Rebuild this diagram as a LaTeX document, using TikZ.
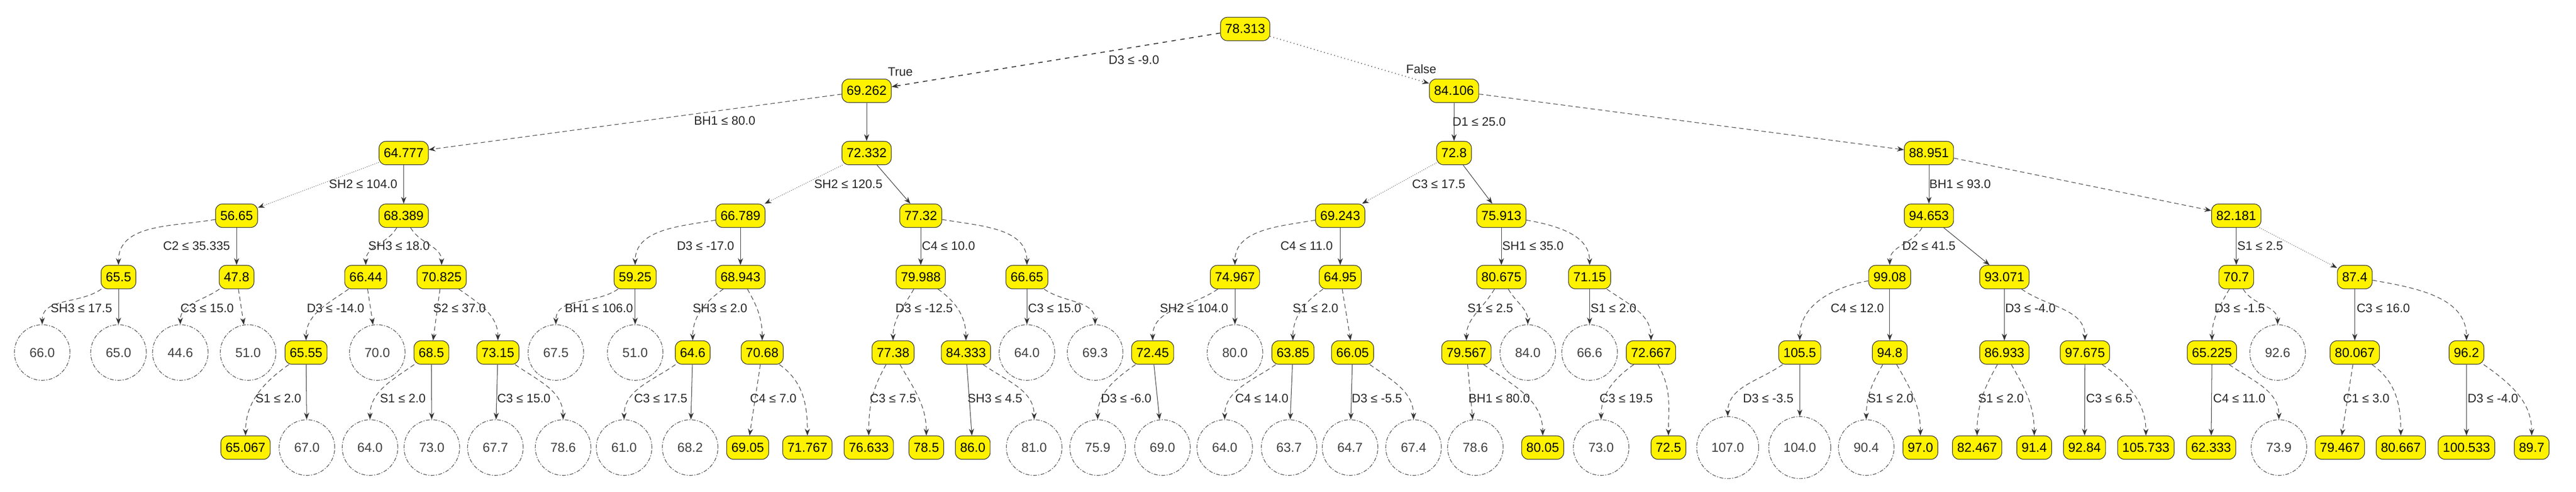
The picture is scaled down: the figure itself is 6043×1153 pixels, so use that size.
\documentclass[tikz,border=0pt]{standalone}
\usepackage{fontspec}
\setmainfont{Liberation Sans}
\usetikzlibrary{arrows.meta}
\newcommand\cv[3]{\draw[ed,densely dashed] (#1) to[out=#3,in=90] (#2);}
\newcommand\st[2]{\draw[ed] (#1) -- (#2);}
\begin{document}
\begin{tikzpicture}[x=0.01cm,y=-0.01cm,
  r/.style={draw=black!80,fill=yellow,rounded corners=1.6mm,minimum height=5.5mm,inner xsep=1.1mm,inner ysep=0.5mm,font=\fontsize{8.7}{9}\selectfont},
  l/.style={draw=black!70,dash pattern=on 2.5pt off 1pt on 0.6pt off 1pt,circle,inner sep=2.5mm,minimum size=12mm,font=\fontsize{8.7}{9}\selectfont,text=black!75},
  lab/.style={font=\fontsize{8.2}{9}\selectfont,text=black!85,inner sep=1pt},
  ed/.style={draw=black!80,line width=0.35pt,-{Stealth[length=1.6mm,width=1.2mm]}}]
\useasboundingbox (0,0) rectangle (6043,1153);
% L0-L2
\node[r] (r) at (2921,68) {78.313};
\node[r] (a) at (2033,213) {69.262};
\node[r] (b) at (3411,213) {84.106};
\node[r] (aa) at (947,359) {64.777};
\node[r] (ab) at (2033,359) {72.332};
\node[r] (ba) at (3411,359) {72.8};
\node[r] (bb) at (4525,359) {88.951};
% L3
\node[r] (aaa) at (555,506) {56.65};
\node[r] (aab) at (947,506) {68.389};
\node[r] (aba) at (1737,506) {66.789};
\node[r] (abb) at (2160,506) {77.32};
\node[r] (baa) at (3144,506) {69.243};
\node[r] (bab) at (3522,506) {75.913};
\node[r] (bba) at (4525,506) {94.653};
\node[r] (bbb) at (5246,506) {82.181};
% L4
\node[r] (aaaa) at (278,650) {65.5};
\node[r] (aaab) at (555,650) {47.8};
\node[r] (aaba) at (858,650) {66.44};
\node[r] (aabb) at (1036,650) {70.825};
\node[r] (abaa) at (1490,650) {59.25};
\node[r] (abab) at (1737,650) {68.943};
\node[r] (abba) at (2160,650) {79.988};
\node[r] (abbb) at (2409,650) {66.65};
\node[r] (baaa) at (2897,650) {74.967};
\node[r] (baab) at (3144,650) {64.95};
\node[r] (baba) at (3522,650) {80.675};
\node[r] (babb) at (3729,650) {71.15};
\node[r] (bbaa) at (4433,650) {99.08};
\node[r] (bbab) at (4702,650) {93.071};
\node[r] (bbba) at (5246,650) {70.7};
\node[r] (bbbb) at (5524,650) {87.4};
% L5
\node[l] (c1) at (99,827) {66.0};
\node[l] (c2) at (278,827) {65.0};
\node[l] (c3) at (423,827) {44.6};
\node[l] (c4) at (582,827) {51.0};
\node[r] (c5) at (718,827) {65.55};
\node[l] (c6) at (885,827) {70.0};
\node[r] (c7) at (1012,827) {68.5};
\node[r] (c8) at (1168,827) {73.15};
\node[l] (c9) at (1304,827) {67.5};
\node[l] (c10) at (1490,827) {51.0};
\node[r] (c11) at (1625,827) {64.6};
\node[r] (c12) at (1788,827) {70.68};
\node[r] (c13) at (2095,827) {77.38};
\node[r] (c14) at (2266,827) {84.333};
\node[l] (c15) at (2409,827) {64.0};
\node[l] (c16) at (2569,827) {69.3};
\node[r] (c17) at (2704,827) {72.45};
\node[l] (c18) at (2897,827) {80.0};
\node[r] (c19) at (3033,827) {63.85};
\node[r] (c20) at (3173,827) {66.05};
\node[r] (c21) at (3440,827) {79.567};
\node[l] (c22) at (3584,827) {84.0};
\node[l] (c23) at (3729,827) {66.6};
\node[r] (c24) at (3873,827) {72.667};
\node[r] (c25) at (4222,827) {105.5};
\node[r] (c26) at (4433,827) {94.8};
\node[r] (c27) at (4702,827) {86.933};
\node[r] (c28) at (4891,827) {97.675};
\node[r] (c29) at (5189,827) {65.225};
\node[l] (c30) at (5343,827) {92.6};
\node[r] (c31) at (5524,827) {80.067};
\node[r] (c32) at (5786,827) {96.2};
% L6
\node[r] (d1) at (576,1050) {65.067};
\node[l] (d2) at (720,1050) {67.0};
\node[l] (d3) at (868,1050) {64.0};
\node[l] (d4) at (1013,1050) {73.0};
\node[l] (d5) at (1162,1050) {67.7};
\node[l] (d6) at (1321,1050) {78.6};
\node[l] (d7) at (1464,1050) {61.0};
\node[l] (d8) at (1619,1050) {68.2};
\node[r] (d9) at (1754,1050) {69.05};
\node[r] (d10) at (1894,1050) {71.767};
\node[r] (d11) at (2038,1050) {76.633};
\node[r] (d12) at (2173,1050) {78.5};
\node[r] (d13) at (2282,1050) {86.0};
\node[l] (d14) at (2426,1050) {81.0};
\node[l] (d15) at (2575,1050) {75.9};
\node[l] (d16) at (2727,1050) {69.0};
\node[l] (d17) at (2873,1050) {64.0};
\node[l] (d18) at (3024,1050) {63.7};
\node[l] (d19) at (3167,1050) {64.7};
\node[l] (d20) at (3316,1050) {67.4};
\node[l] (d21) at (3461,1050) {78.6};
\node[r] (d22) at (3619,1050) {80.05};
\node[l] (d23) at (3756,1050) {73.0};
\node[r] (d24) at (3914,1050) {72.5};
\node[l] (d25) at (4053,1050) {107.0};
\node[l] (d26) at (4222,1050) {104.0};
\node[l] (d27) at (4378,1050) {90.4};
\node[r] (d28) at (4505,1050) {97.0};
\node[r] (d29) at (4638,1050) {82.467};
\node[r] (d30) at (4772,1050) {91.4};
\node[r] (d31) at (4890,1050) {92.84};
\node[r] (d32) at (5034,1050) {105.733};
\node[r] (d33) at (5187,1050) {62.333};
\node[l] (d34) at (5346,1050) {73.9};
\node[r] (d35) at (5489,1050) {79.467};
\node[r] (d36) at (5632,1050) {80.667};
\node[r] (d37) at (5786,1050) {100.533};
\node[r] (d38) at (5939,1050) {89.7};
% top edges
\draw[ed,dashed,line width=0.6pt] (r) -- (a);
\draw[ed,dotted,line width=0.7pt] (r) -- (b);
\draw[ed,densely dashed] (a) -- (aa);
\st{a}{ab}
\st{b}{ba}
\draw[ed,densely dashed] (b) -- (bb);
\draw[ed,densely dotted] (aa) -- (aaa);
\st{aa}{aab}
\draw[ed,densely dotted] (ab) -- (aba);
\st{ab}{abb}
\draw[ed,densely dotted] (ba) -- (baa);
\st{ba}{bab}
\st{bb}{bba}
\draw[ed,densely dashed] (bb) -- (bbb);
% L3-L4
\cv{aaa}{aaaa}{190} \st{aaa}{aaab}
\cv{aab}{aaba}{240} \cv{aab}{aabb}{-60}
\cv{aba}{abaa}{190} \st{aba}{abab}
\st{abb}{abba} \cv{abb}{abbb}{-10}
\cv{baa}{baaa}{190} \st{baa}{baab}
\st{bab}{baba} \cv{bab}{babb}{-10}
\cv{bba}{bbaa}{240} \draw[ed] (bba) -- (bbab);
\st{bbb}{bbba} \draw[ed,densely dotted] (bbb) -- (bbbb);
% L4-L5
\cv{aaaa}{c1}{215} \st{aaaa}{c2}
\cv{aaab}{c3}{215} \draw[ed,densely dashed] (aaab) -- (c4);
\cv{aaba}{c5}{215} \draw[ed,densely dashed] (aaba) -- (c6);
\draw[ed,densely dashed] (aabb) -- (c7); \cv{aabb}{c8}{-35}
\cv{abaa}{c9}{215} \st{abaa}{c10}
\cv{abab}{c11}{215} \cv{abab}{c12}{-60}
\cv{abba}{c13}{240} \cv{abba}{c14}{-35}
\st{abbb}{c15} \cv{abbb}{c16}{-35}
\cv{baaa}{c17}{215} \st{baaa}{c18}
\cv{baab}{c19}{215} \draw[ed,densely dashed] (baab) -- (c20);
\cv{baba}{c21}{240} \cv{baba}{c22}{-60}
\st{babb}{c23} \cv{babb}{c24}{-35}
\cv{bbaa}{c25}{190} \st{bbaa}{c26}
\st{bbab}{c27} \cv{bbab}{c28}{-35}
\cv{bbba}{c29}{240} \cv{bbba}{c30}{-60}
\st{bbbb}{c31} \cv{bbbb}{c32}{-10}
% L5-L6
\cv{c5}{d1}{215} \st{c5}{d2}
\cv{c7}{d3}{215} \st{c7}{d4}
\st{c8}{d5} \cv{c8}{d6}{-35}
\cv{c11}{d7}{215} \st{c11}{d8}
\draw[ed,densely dashed] (c12) -- (d9); \cv{c12}{d10}{-35}
\cv{c13}{d11}{240} \cv{c13}{d12}{-60}
\st{c14}{d13} \cv{c14}{d14}{-35}
\cv{c17}{d15}{215} \st{c17}{d16}
\cv{c19}{d17}{215} \st{c19}{d18}
\st{c20}{d19} \cv{c20}{d20}{-35}
\draw[ed,densely dashed] (c21) -- (d21); \cv{c21}{d22}{-35}
\cv{c24}{d23}{215} \cv{c24}{d24}{-60}
\cv{c25}{d25}{215} \st{c25}{d26}
\cv{c26}{d27}{240} \cv{c26}{d28}{-60}
\cv{c27}{d29}{240} \cv{c27}{d30}{-60}
\st{c28}{d31} \cv{c28}{d32}{-35}
\st{c29}{d33} \cv{c29}{d34}{-35}
\draw[ed,densely dashed] (c31) -- (d35); \cv{c31}{d36}{-35}
\st{c32}{d37} \cv{c32}{d38}{-35}
% labels
\node[lab] (tT) at (2112,168) {True};
\node[lab] (tF) at (3334,162) {False};
\node[lab] (t0) at (2660,140) {D3 ≤ -9.0};
\node[lab] (t1) at (1700,283) {BH1 ≤ 80.0};
\node[lab] (t2) at (3470,285) {D1 ≤ 25.0};
\node[lab] (t3) at (852,432) {SH2 ≤ 104.0};
\node[lab] (t4) at (1990,432) {SH2 ≤ 120.5};
\node[lab] (t5) at (3375,432) {C3 ≤ 17.5};
\node[lab] (t6) at (4598,432) {BH1 ≤ 93.0};
\node[lab] (t7) at (461,577) {C2 ≤ 35.335};
\node[lab] (t8) at (936,577) {SH3 ≤ 18.0};
\node[lab] (t9) at (1655,577) {D3 ≤ -17.0};
\node[lab] (t10) at (2225,577) {C4 ≤ 10.0};
\node[lab] (t11) at (3065,577) {C4 ≤ 11.0};
\node[lab] (t12) at (3596,577) {SH1 ≤ 35.0};
\node[lab] (t13) at (4525,577) {D2 ≤ 41.5};
\node[lab] (t14) at (5302,577) {S1 ≤ 2.5};
\node[lab] (t15) at (191,723) {SH3 ≤ 17.5};
\node[lab] (t16) at (486,723) {C3 ≤ 15.0};
\node[lab] (t17) at (787,723) {D3 ≤ -14.0};
\node[lab] (t18) at (1078,723) {S2 ≤ 37.0};
\node[lab] (t19) at (1405,723) {BH1 ≤ 106.0};
\node[lab] (t20) at (1689,723) {SH3 ≤ 2.0};
\node[lab] (t21) at (2168,723) {D3 ≤ -12.5};
\node[lab] (t22) at (2474,723) {C3 ≤ 15.0};
\node[lab] (t23) at (2801,723) {SH2 ≤ 104.0};
\node[lab] (t24) at (3086,723) {S1 ≤ 2.0};
\node[lab] (t25) at (3496,723) {S1 ≤ 2.5};
\node[lab] (t26) at (3785,723) {S1 ≤ 2.0};
\node[lab] (t27) at (4357,723) {C4 ≤ 12.0};
\node[lab] (t28) at (4763,723) {D3 ≤ -4.0};
\node[lab] (t29) at (5254,723) {D3 ≤ -1.5};
\node[lab] (t30) at (5591,723) {C3 ≤ 16.0};
\node[lab] (t31) at (653,934) {S1 ≤ 2.0};
\node[lab] (t32) at (945,934) {S1 ≤ 2.0};
\node[lab] (t33) at (1229,934) {C3 ≤ 15.0};
\node[lab] (t34) at (1550,934) {C3 ≤ 17.5};
\node[lab] (t35) at (1814,934) {C4 ≤ 7.0};
\node[lab] (t36) at (2095,934) {C3 ≤ 7.5};
\node[lab] (t37) at (2334,934) {SH3 ≤ 4.5};
\node[lab] (t38) at (2642,934) {D3 ≤ -6.0};
\node[lab] (t39) at (2960,934) {C4 ≤ 14.0};
\node[lab] (t40) at (3230,934) {D3 ≤ -5.5};
\node[lab] (t41) at (3517,934) {BH1 ≤ 80.0};
\node[lab] (t42) at (3815,934) {C3 ≤ 19.5};
\node[lab] (t43) at (4148,934) {D3 ≤ -3.5};
\node[lab] (t44) at (4435,934) {S1 ≤ 2.0};
\node[lab] (t45) at (4694,934) {S1 ≤ 2.0};
\node[lab] (t46) at (4948,934) {C3 ≤ 6.5};
\node[lab] (t47) at (5253,934) {C4 ≤ 11.0};
\node[lab] (t48) at (5551,934) {C1 ≤ 3.0};
\node[lab] (t49) at (5848,934) {D3 ≤ -4.0};
\end{tikzpicture}
\end{document}
